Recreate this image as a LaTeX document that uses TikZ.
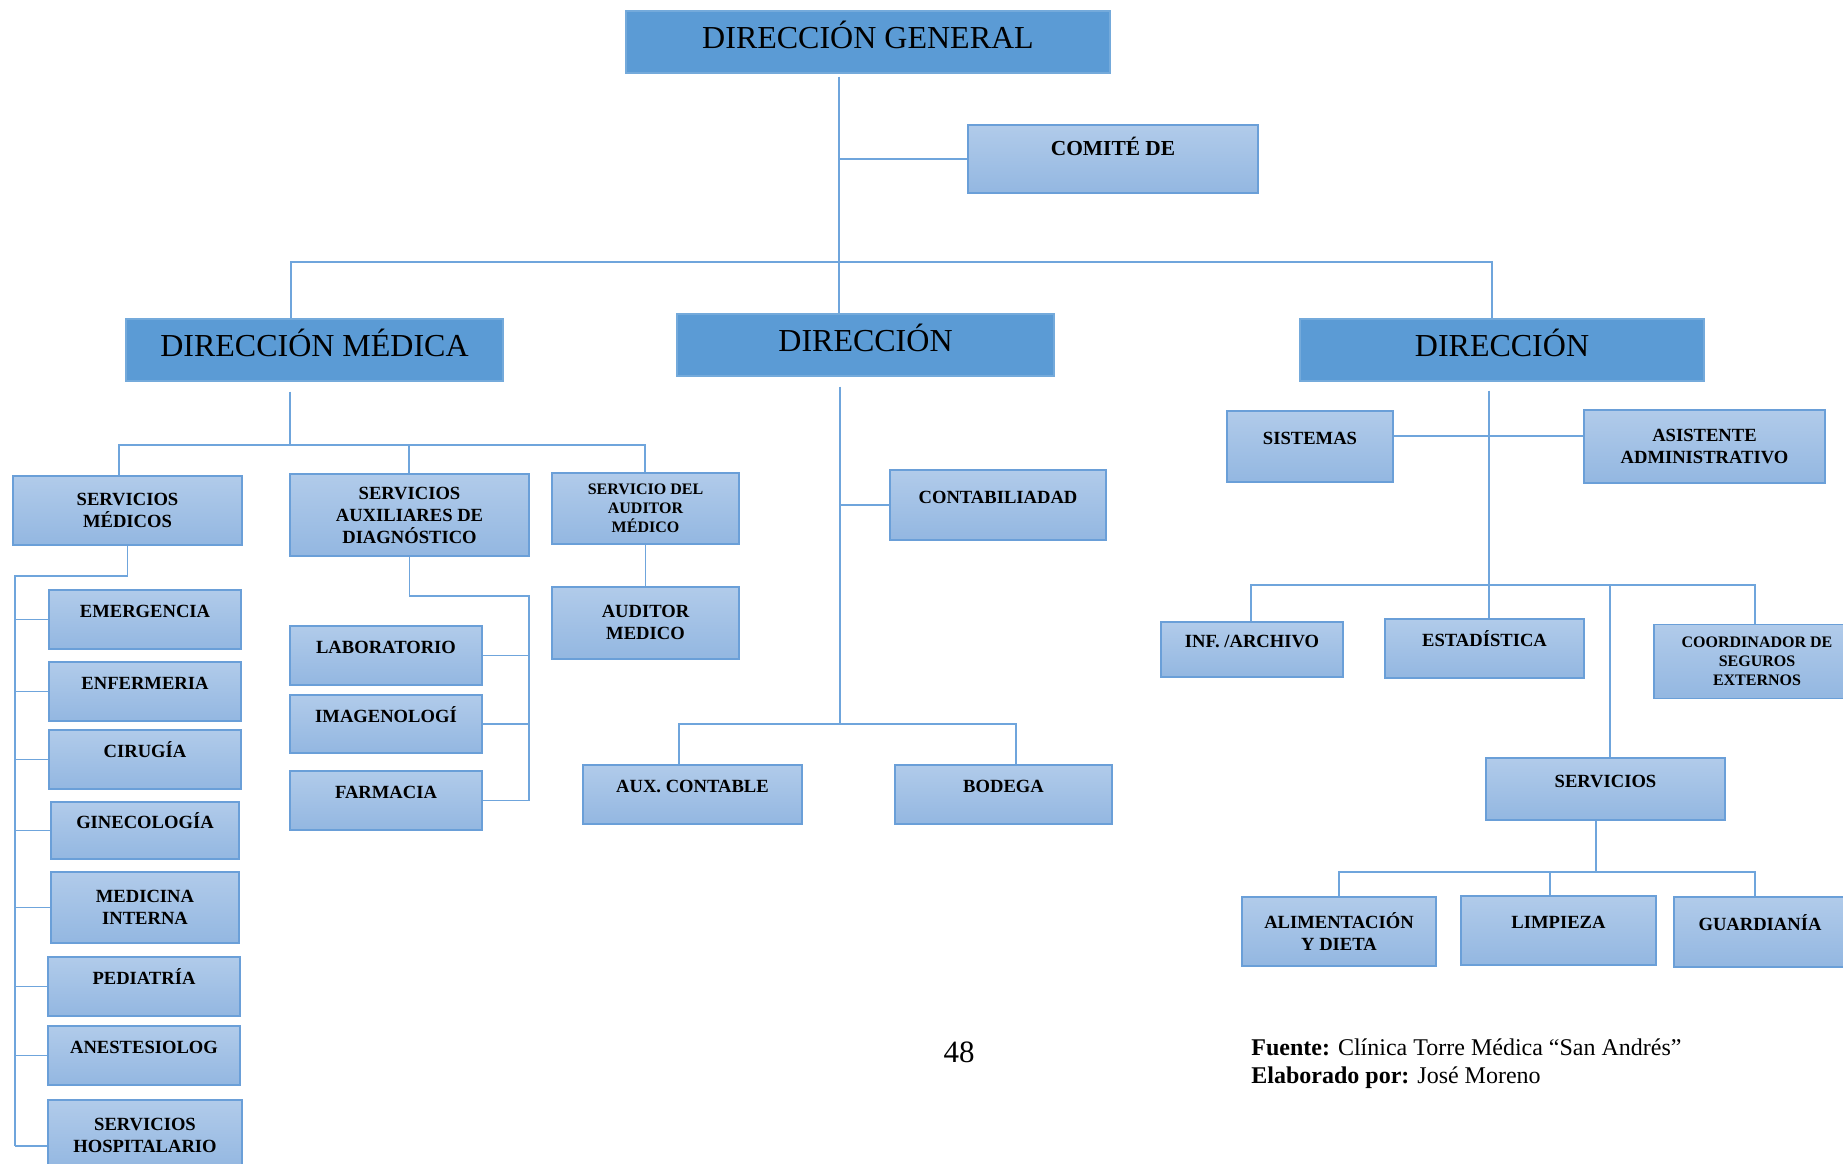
\documentclass[tikz,border=0pt]{standalone}
\usepackage{fontspec}
\setmainfont{Liberation Serif}
\usepackage{xcolor}
\usepackage{tikz}
\usetikzlibrary{positioning,calc}
\definecolor{bigblue}{HTML}{5B9BD5}
\definecolor{boxtop}{HTML}{B1CBEA}
\definecolor{boxbot}{HTML}{93B7E1}
\definecolor{boxline}{HTML}{6A9FD8}
\definecolor{linecol}{HTML}{6FA5DC}
\tikzset{
  bigbox/.style={fill=bigblue, draw=bigblue!85!white, line width=0.6pt, minimum height=31pt, text height=11pt, text depth=5pt, font=\fontsize{16}{19}\selectfont},
  subbox/.style={draw=boxline, line width=0.9pt, top color=boxtop, bottom color=boxbot, align=center, inner sep=1pt, font=\bfseries\fontsize{9.3}{11}\selectfont},
  onebox/.style={subbox, text height=7pt, text depth=9pt},
  tinybox/.style={subbox, font=\bfseries\fontsize{8}{9.4}\selectfont},
  conn/.style={draw=linecol, line width=0.8pt}
}

\begin{document}
\begin{tikzpicture}[x=0.5pt,y=-0.5pt]
    \useasboundingbox (0,0) rectangle (1843,1163);

    % cabeza
    \node[bigbox, minimum width=242pt] (dg) at (868,42) {DIRECCIÓN GENERAL};
    \node[onebox, minimum width=145pt, minimum height=34pt, font=\bfseries\fontsize{10.7}{12}\selectfont, text depth=11pt] (com) at (1113,159) {COMITÉ DE};

    \node[bigbox, minimum width=188.5pt] (dm) at (314.5,350) {DIRECCIÓN MÉDICA};
    \node[bigbox, minimum width=188.5pt] (dc) at (865.5,345) {DIRECCIÓN};
    \node[bigbox, minimum width=202pt] (dr) at (1502,350) {DIRECCIÓN};

    \coordinate (gv) at (839,262);
    \coordinate (b1) at (291,262);
    \coordinate (b2) at (1492,262);
    \draw[conn, shorten <=1.5pt] (gv |- dg.south) -- (gv |- dc.north);
    \draw[conn] (gv |- com.west) -- (com.west);
    \draw[conn] (b1 |- dm.north) -- (b1) -- (b2) -- (b2 |- dr.north);

    % direccion medica
    \node[subbox, minimum width=114.5pt, minimum height=34.5pt] (sm) at (127.5,510.5) {SERVICIOS\\MÉDICOS};
    \node[subbox, minimum width=119.5pt, minimum height=41pt] (sad) at (409.5,515) {SERVICIOS\\AUXILIARES DE\\DIAGNÓSTICO};
    \node[tinybox, minimum width=93.5pt, minimum height=35.5pt] (sam) at (645.5,508.5) {SERVICIO DEL\\AUDITOR\\MÉDICO};
    \node[subbox, minimum width=93.5pt, minimum height=36pt, below=20.5pt of sam] (am) {AUDITOR\\MEDICO};

    \coordinate (m0) at (290,445);
    \coordinate (m1) at (119,445);
    \coordinate (m2) at (409,445);
    \coordinate (m3) at (645,445);
    \draw[conn, shorten <=5pt] (m0 |- dm.south) -- (m0);
    \draw[conn] (m1 |- sm.north) -- (m1) -- (m3) -- (m3 |- sam.north);
    \draw[conn] (m2) -- (m2 |- sad.north);
    \draw[conn] (sam) -- (am);

    % servicios medicos
    \node[onebox, minimum width=96pt, minimum height=29.5pt] (eme) at (145,619.5) {EMERGENCIA};
    \node[onebox, minimum width=96pt, minimum height=29.5pt] (enf) at (145,691.5) {ENFERMERIA};
    \node[onebox, minimum width=96pt, minimum height=29.5pt] (cir) at (145,759.5) {CIRUGÍA};
    \node[onebox, minimum width=94pt, minimum height=28.5pt] (gin) at (145,830.5) {GINECOLOGÍA};
    \node[subbox, minimum width=94pt, minimum height=35.5pt] (med) at (145,907.5) {MEDICINA\\INTERNA};
    \node[onebox, minimum width=96pt, minimum height=29.5pt] (ped) at (144,986.5) {PEDIATRÍA};
    \node[onebox, minimum width=96pt, minimum height=29.5pt] (ane) at (144,1055.5) {ANESTESIOLOG};
    \node[subbox, minimum width=97pt, minimum height=35pt] (sho) at (145,1135) {SERVICIOS\\HOSPITALARIO};

    \coordinate (s0) at (15,576);
    \coordinate (s1) at (15,1146);
    \draw[conn] (sm.south) |- (s0) -- (s1);
    \foreach \n in {eme,enf,cir,gin,med,ped,ane}
        \draw[conn] (s0 |- \n.west) -- (\n.west);
    \draw[conn] (s1) -- (s1 -| sho.west);

    % servicios auxiliares
    \node[onebox, minimum width=96pt, minimum height=29.5pt] (lab) at (386,655.5) {LABORATORIO};
    \node[onebox, minimum width=96pt, minimum height=29pt] (ima) at (386,724) {IMAGENOLOGÍ};
    \node[onebox, minimum width=96pt, minimum height=29.5pt] (far) at (386,800.5) {FARMACIA};

    \coordinate (a0) at (529,596);
    \draw[conn] (sad.south) |- (a0) -- (a0 |- far.east);
    \foreach \n in {lab,ima,far}
        \draw[conn] (\n.east) -- (a0 |- \n.east);

    % direccion del centro
    \node[onebox, minimum width=108pt, minimum height=35pt] (cta) at (998,505) {CONTABILIADAD};
    \node[onebox, minimum width=109.5pt, minimum height=29.5pt] (aux) at (692.5,794.5) {AUX. CONTABLE};
    \node[onebox, minimum width=108.5pt, minimum height=29.5pt] (bod) at (1003.5,794.5) {BODEGA};

    \coordinate (c0) at (840,724);
    \coordinate (c1) at (679,724);
    \coordinate (c2) at (1016,724);
    \draw[conn, shorten <=5pt] (c0 |- dc.south) -- (c0);
    \draw[conn] (c0 |- cta.west) -- (cta.west);
    \draw[conn] (c1 |- aux.north) -- (c1) -- (c2) -- (c2 |- bod.north);

    % direccion de la derecha
    \node[onebox, minimum width=83pt, minimum height=35.5pt] (sis) at (1310,446.5) {SISTEMAS};
    \node[subbox, minimum width=120.5pt, minimum height=36.5pt] (asi) at (1704.5,446.5) {ASISTENTE\\ADMINISTRATIVO};
    \node[onebox, minimum width=91pt, minimum height=27.5pt] (inf) at (1252,649.5) {INF. /ARCHIVO};
    \node[onebox, minimum width=99.5pt, minimum height=29.5pt] (est) at (1484.5,648.5) {ESTADÍSTICA};
    \node[tinybox, minimum width=103pt, minimum height=37pt] (coo) at (1757,661.5) {COORDINADOR DE\\SEGUROS\\EXTERNOS};
    \node[onebox, minimum width=119.5pt, minimum height=31pt] (ser) at (1605.5,789) {SERVICIOS};

    \coordinate (r0) at (1489,585);
    \coordinate (r1) at (1489,436);
    \coordinate (r2) at (1251,585);
    \coordinate (r3) at (1755,585);
    \coordinate (r4) at (1610,585);
    \draw[conn, shorten <=4.5pt] (r0 |- dr.south) -- (r0 |- est.north);
    \draw[conn] (sis.east |- r1) -- (asi.west |- r1);
    \draw[conn] (r2 |- inf.north) -- (r2) -- (r3) -- (r3 |- coo.north);
    \draw[conn] (r4) -- (r4 |- ser.north);

    % servicios generales
    \node[subbox, minimum width=97pt, minimum height=34.5pt] (ali) at (1339,931.5) {ALIMENTACIÓN\\Y DIETA};
    \node[onebox, minimum width=97.5pt, minimum height=34.5pt] (lim) at (1558.5,930.5) {LIMPIEZA};
    \node[onebox, minimum width=86pt, minimum height=35pt] (gua) at (1760,932) {GUARDIANÍA};

    \coordinate (v0) at (1596,872);
    \coordinate (v1) at (1339,872);
    \coordinate (v2) at (1550,872);
    \coordinate (v3) at (1755,872);
    \draw[conn] (ser.south -| v0) -- (v0);
    \draw[conn] (v1 |- ali.north) -- (v1) -- (v3) -- (v3 |- gua.north);
    \draw[conn] (v2) -- (v2 |- lim.north);

    % pie
    \node[font=\fontsize{15.5}{18}\selectfont] (pag) at (959,1052) {48};
    \node[anchor=west, align=left, inner sep=0pt, font=\fontsize{12}{14}\selectfont] (fte) at (1251,1064) {\textbf{Fuente:} Clínica Torre Médica “San Andrés”\\\textbf{Elaborado por:} José Moreno};
\end{tikzpicture}
\end{document}
